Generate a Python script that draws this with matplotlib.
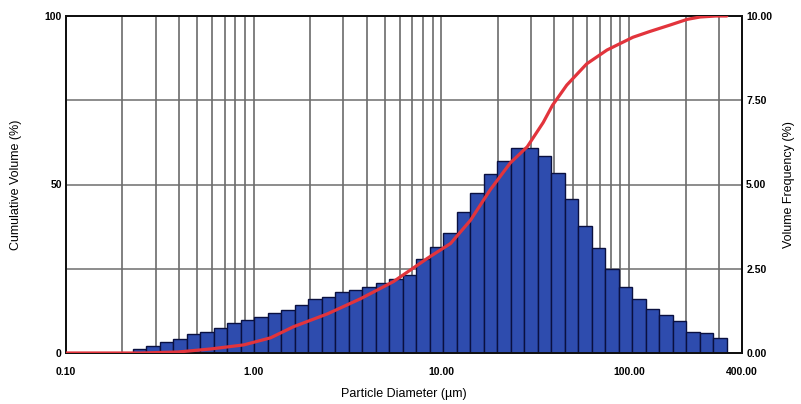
import numpy as np
import matplotlib
matplotlib.use("Agg")
import matplotlib.pyplot as plt
from matplotlib.ticker import FixedLocator, NullFormatter

plt.rcParams['font.family'] = ['Liberation Sans', 'DejaVu Sans']

# ---- data ----
# size-class range (µm) of the histogram, log-spaced classes
d_min, d_max, n_bins = 0.227, 332.0, 44
# volume frequency (%) per size class
freq = [0.12, 0.21, 0.33, 0.42, 0.57, 0.63, 0.74, 0.89, 0.98, 1.07,
        1.19, 1.28, 1.43, 1.61, 1.67, 1.82, 1.88, 1.96, 2.08, 2.20,
        2.32, 2.80, 3.15, 3.57, 4.17, 4.76, 5.30, 5.71, 6.08, 6.08,
        5.86, 5.33, 4.58, 3.78, 3.13, 2.50, 1.96, 1.61, 1.31, 1.13,
        0.95, 0.63, 0.60, 0.45]
# cumulative volume curve (diameter µm, %)
cum_d = [0.1, 0.25, 0.395, 0.59, 0.885, 1.23, 1.63, 2.47, 3.71, 5.56,
         8.43, 11.2, 14.3, 18.2, 23.3, 28.7, 34.9, 39.1, 46.6, 59.5,
         76.3, 105, 129, 165, 204, 239, 290, 332]
cum_v = [0, 0, 0.3, 1.2, 2.4, 4.5, 7.8, 11.6, 16.1, 21.2,
         28.1, 32.5, 39.4, 48.4, 56.4, 61.2, 68.4, 73.5, 79.5, 85.8,
         89.9, 93.7, 95.4, 97.3, 99.0, 99.7, 100, 100]
x_ticks = [0.1, 1, 10, 100, 400]
x_ticklabels = ['0.10', '1.00', '10.00', '100.00', '400.00']
left_ticks = [0, 50, 100]
left_ticklabels = ['0', '50', '100']
right_ticks = [0, 2.5, 5, 7.5, 10]
right_ticklabels = ['0.00', '2.50', '5.00', '7.50', '10.00']

# ---- figure ----
fig = plt.figure(figsize=(8.01, 4.04), dpi=100)
ax = fig.add_axes([66/801, 1-353/404, (742-66)/801, (353-16)/404])
ax.set_xscale('log')
ax.set_xlim(0.1, 400)
ax.set_ylim(0, 100)

# grid: log minor verticals + horizontals
grid_x = [m * 10**e for e in range(-1, 3) for m in range(1, 10)]
grid_x = [g for g in grid_x if 0.1 < g < 400]
for g in grid_x:
    ax.axvline(g, color='#5e5e5e', lw=1.1, zorder=0)
for g in [25, 50, 75]:
    ax.axhline(g, color='#6e6e6e', lw=1.1, zorder=0)

ax2 = ax.twinx()
ax2.set_ylim(0, 10)
edges = np.geomspace(d_min, d_max, n_bins + 1)
ax2.bar(edges[:-1], freq, width=np.diff(edges), align='edge',
        color='#2e4cae', edgecolor='#0a1040', linewidth=1.0, zorder=2)

# cumulative line on top
ax3 = ax.twinx()
ax3.set_ylim(0, 100)
ax3.plot(cum_d, cum_v, color='#e2343c', lw=2.3, zorder=5, solid_capstyle='round')
ax3.axis('off')

ax.set_xticks(x_ticks)
ax.set_xticklabels(x_ticklabels)
ax.xaxis.set_minor_locator(FixedLocator([]))
ax.xaxis.set_minor_formatter(NullFormatter())
ax.set_yticks(left_ticks)
ax.set_yticklabels(left_ticklabels)
ax2.set_yticks(right_ticks)
ax2.set_yticklabels(right_ticklabels)

for a in (ax, ax2):
    a.tick_params(axis='both', which='both', length=0, labelsize=7.5, pad=3)
    for t in a.get_xticklabels() + a.get_yticklabels():
        t.set_fontweight('bold')
    for s in a.spines.values():
        s.set_color('#111111')
        s.set_linewidth(1.4)
ax.tick_params(axis='x', pad=10)

ax.set_xlabel('Particle Diameter (µm)', fontsize=9, labelpad=8)
ax.set_ylabel('Cumulative Volume (%)', fontsize=9, labelpad=16)
ax2.set_ylabel('Volume Frequency (%)', fontsize=9, labelpad=8)

fig.savefig('out.png', dpi=100)
